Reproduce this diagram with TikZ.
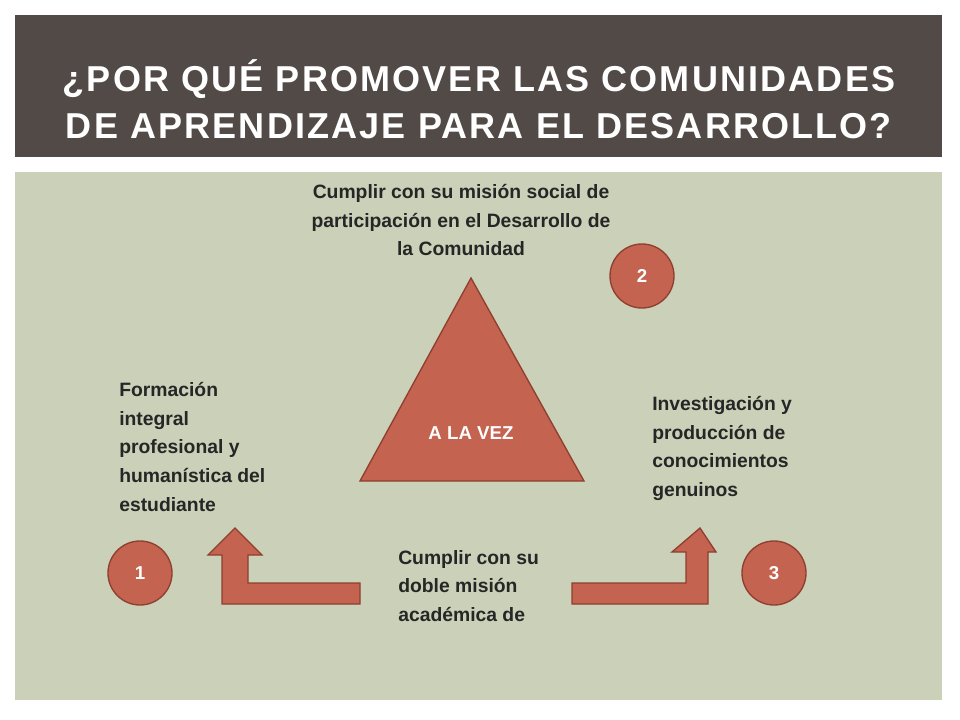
\documentclass[tikz,border=0pt]{standalone}
\usepackage{fontspec}
\setmainfont{Liberation Sans}
\definecolor{bar}{HTML}{524A46}
\definecolor{panel}{HTML}{CBD0B8}
\definecolor{terra}{HTML}{C4634F}
\definecolor{terraD}{HTML}{8E3F30}
\definecolor{txt}{HTML}{262626}
\begin{document}
\begin{tikzpicture}[x=0.75pt,y=-0.75pt,
  shp/.style={fill=terra,draw=terraD,line width=1pt},
  lbl/.style={font=\bfseries\fontsize{14.5}{21.5}\selectfont,text=txt,align=left,anchor=north west,inner sep=0pt},
  num/.style={shp,circle,minimum size=48pt,inner sep=0pt,text=white,font=\bfseries\fontsize{14}{16}\selectfont}]
\useasboundingbox (0,0) rectangle (960,720);
\fill[white] (0,0) rectangle (960,720);
\fill[bar] (15,15) rectangle (942,157);
\fill[panel] (15,172) rectangle (942,700);
\node[text=white,align=center,font=\bfseries\fontsize{27}{35}\selectfont] (title) at (479,99)
 {\addfontfeatures{LetterSpace=6}¿POR QUÉ PROMOVER LAS COMUNIDADES\\\addfontfeatures{LetterSpace=6}DE APRENDIZAJE PARA EL DESARROLLO?};
\draw[shp] (471,278) -- (584,481) -- (360,481) -- cycle;
\node[text=white,font=\bfseries\fontsize{14}{16}\selectfont] (alv) at (471,433) {A LA VEZ};
\node[num] (n1) at (140,573) {1};
\node[num] (n2) at (642,276) {2};
\node[num] (n3) at (774,573) {3};
\draw[shp] (360,583) -- (248,583) -- (248,555) -- (262,555) -- (235,528) -- (208,555) -- (222,555) -- (222,604) -- (360,604) -- cycle;
\draw[shp] (572,583) -- (686,583) -- (686,552) -- (672,552) -- (700,528) -- (716,552) -- (708,552) -- (708,604) -- (572,604) -- cycle;
\node[lbl,align=center,anchor=north] (top) at (461,184) {Cumplir con su misión social de\\participación en el Desarrollo de\\la Comunidad};
\node[lbl] (left) at (119,382) {Formación\\integral\\profesional y\\humanística del\\estudiante};
\node[lbl] (right) at (652,396) {Investigación y\\producción de\\conocimientos\\genuinos};
\node[lbl] (bot) at (398,550) {Cumplir con su\\doble misión\\académica de};
\end{tikzpicture}
\end{document}
